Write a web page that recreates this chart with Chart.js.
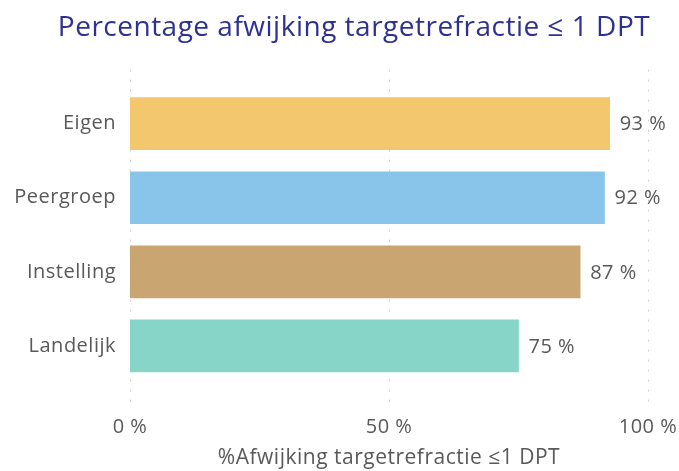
<!DOCTYPE html>
<html>
<head>
<meta charset="utf-8">
<script src="https://cdn.jsdelivr.net/npm/chart.js@4.4.0/dist/chart.umd.min.js"></script>
<style>
  html, body { margin: 0; padding: 0; background: #ffffff; }
  #wrap { width: 679px; height: 471px; }
</style>
</head>
<body>
<div id="wrap"><canvas id="c" width="679" height="471"></canvas></div>
<script>
const categories = ["Eigen", "Peergroep", "Instelling", "Landelijk"];
const values = [92.6, 91.6, 86.9, 75.0];
const barColors = ["#F2C76E", "#89C5EA", "#C9A572", "#86D5C8"];
const xTicks = [0, 50, 100];
const chartTitle = "Percentage afwijking targetrefractie \u2264 1 DPT";
const xAxisTitle = "%Afwijking targetrefractie \u22641 DPT";

const FONT = "'Open Sans', 'Noto Sans', sans-serif";
const TEXT = "#595959";

const spacing = {
  id: 'spacing',
  beforeInit(chart) { chart.ctx.letterSpacing = '0.5px'; },
  beforeDraw(chart) { chart.ctx.letterSpacing = '0.5px'; }
};

const dottedGrid = {
  id: 'dottedGrid',
  beforeDatasetsDraw(chart) {
    const ctx = chart.ctx;
    const xs = chart.scales.x;
    const area = chart.chartArea;
    ctx.save();
    ctx.strokeStyle = '#cfcfcf';
    ctx.lineWidth = 1;
    ctx.setLineDash([2, 8]);
    xTicks.forEach(v => {
      const px = Math.round(xs.getPixelForValue(v)) + 0.5;
      ctx.beginPath();
      ctx.moveTo(px, area.top - 17);
      ctx.lineTo(px, area.bottom + 20);
      ctx.stroke();
    });
    ctx.restore();
  }
};

const valueLabels = {
  id: 'valueLabels',
  afterDatasetsDraw(chart) {
    const ctx = chart.ctx;
    const meta = chart.getDatasetMeta(0);
    ctx.save();
    ctx.font = "20px " + FONT;
    ctx.fillStyle = TEXT;
    ctx.textAlign = 'left';
    ctx.textBaseline = 'middle';
    meta.data.forEach((el, i) => {
      ctx.fillText(Math.round(values[i]) + " %", el.x + 10, el.y + 1);
    });
    ctx.restore();
  }
};

new Chart(document.getElementById('c'), {
  type: 'bar',
  data: {
    labels: categories,
    datasets: [{
      data: values,
      backgroundColor: barColors,
      borderColor: barColors,
      borderWidth: 0,
      barThickness: 52
    }]
  },
  options: {
    indexAxis: 'y',
    responsive: false,
    animation: false,
    layout: { padding: { left: 0, right: -29, top: 0, bottom: 0 } },
    plugins: {
      legend: { display: false },
      tooltip: { enabled: false },
      title: {
        display: true,
        text: chartTitle,
        color: '#2E3192',
        font: { family: FONT, size: 28, weight: 'normal' },
        padding: { top: 11, bottom: 42 }
      }
    },
    scales: {
      x: {
        min: 0, max: 100,
        afterBuildTicks(scale) { scale.ticks = xTicks.map(v => ({ value: v })); },
        afterFit(scale) { scale.height = 88; scale.paddingRight = 31; },
        grid: { display: false, drawTicks: false },
        border: { display: false },
        ticks: {
          color: TEXT,
          font: { family: FONT, size: 20 },
          padding: 32,
          callback: v => v + " %"
        },
        title: {
          display: true,
          text: xAxisTitle,
          color: TEXT,
          font: { family: FONT, size: 21 },
          padding: { top: 7, bottom: 0 }
        }
      },
      y: {
        afterFit(scale) { scale.width = 130; },
        grid: { display: false, drawTicks: false },
        border: { display: false },
        ticks: {
          color: TEXT,
          font: { family: FONT, size: 20 },
          padding: 14
        }
      }
    }
  },
  plugins: [spacing, dottedGrid, valueLabels]
});
</script>
</body>
</html>
